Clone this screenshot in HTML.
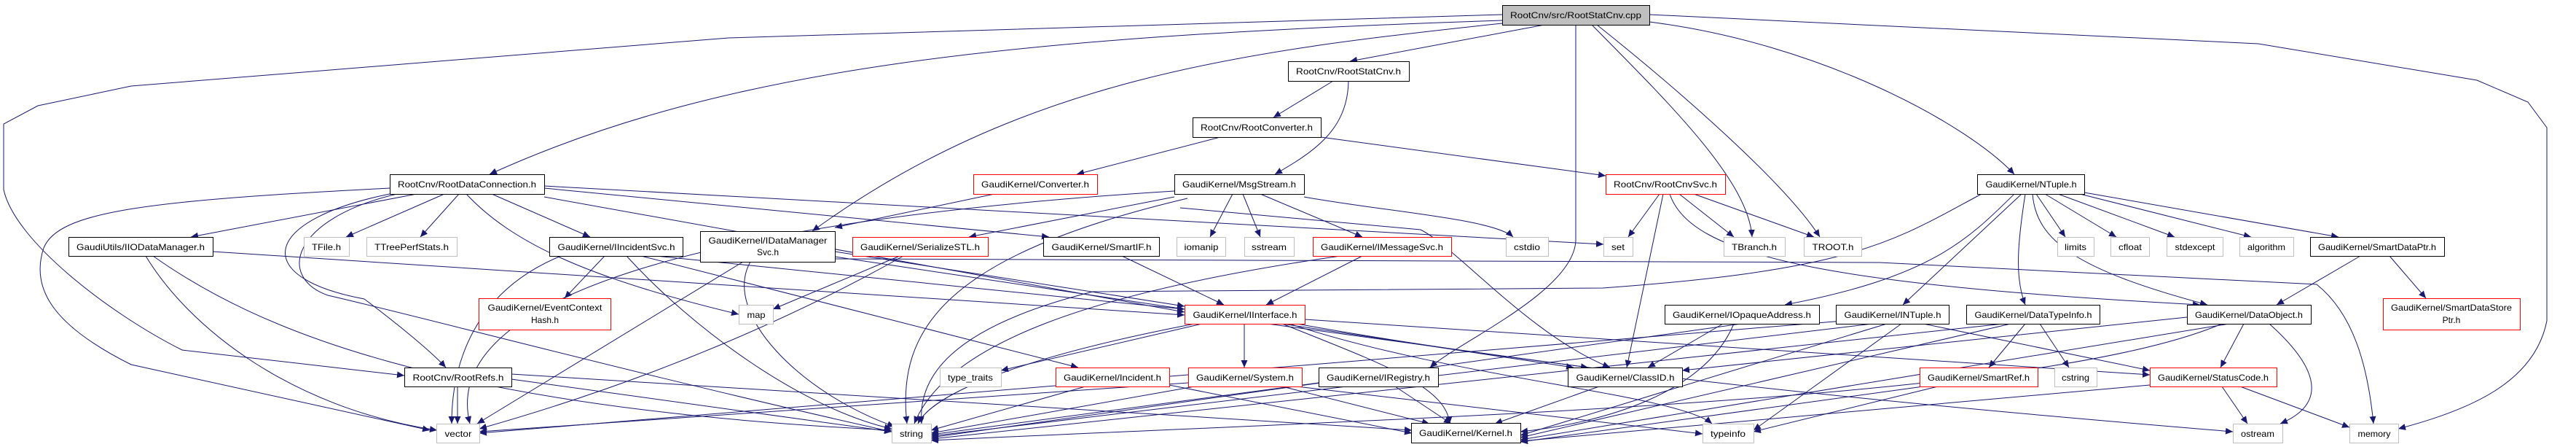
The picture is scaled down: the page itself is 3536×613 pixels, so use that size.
<!DOCTYPE html>
<html><head><meta charset="utf-8"><style>
html,body{margin:0;padding:0;background:#fff;}
svg{display:block;}
text{font-family:"Liberation Sans",sans-serif;font-size:12px;fill:#000;}
.e path{fill:none;stroke:#191970;stroke-width:1;}
</style></head><body>
<svg width="3536" height="613" viewBox="0 0 3536 613" xmlns="http://www.w3.org/2000/svg">
<defs><marker id="a" markerUnits="userSpaceOnUse" markerWidth="11" markerHeight="9" refX="10" refY="4.5" orient="auto"><path d="M0,0 L10,4.5 L0,9 z" fill="#191970"/></marker></defs>
<g class="e" marker-end="url(#a)">
<path d="M2120 34 L1853 84"/>
<path d="M2062 28 C1400 50,1000 90,672 239"/>
<path d="M2062 32 C1700 70,1400 110,1115 317"/>
<path d="M2062 20 L1000 52 L180 118 L52 145 L5 170 L5 260 C20 330,150 430,250 480 L555 515"/>
<path d="M2163 34 L2163 330 C2160 400,2000 470,1963 504"/>
<path d="M2185 34 C2300 150,2400 250,2405 325"/>
<path d="M2192 34 C2300 120,2450 250,2498 325"/>
<path d="M2264 30 C2500 60,2700 170,2765 239"/>
<path d="M2264 20 L3100 60 L3400 110 L3470 140 L3496 175 L3496 440 C3480 520,3400 560,3292 588"/>
<path d="M1830 111 L1748 161"/>
<path d="M1851 111 C1850 180,1800 210,1750 239"/>
<path d="M1675 188 L1478 239"/>
<path d="M1813 188 L2204 241"/>
<path d="M1365 266 L1146 312"/>
<path d="M1692 266 L1661 325"/>
<path d="M1706 266 L1730 325"/>
<path d="M1730 266 L1870 325"/>
<path d="M1790 270 C1900 290,2050 300,2077 325"/>
<path d="M1612 270 L1330 325"/>
<path d="M1630 272 C1300 350,1230 450,1245 581"/>
<path d="M1612 262 C1000 300,600 400,645 581"/>
<path d="M1620 285 L1950 315 C2000 340,2100 460,2210 504"/>
<path d="M2278 266 L2235 325"/>
<path d="M2305 266 L2380 325"/>
<path d="M2325 266 L2490 325"/>
<path d="M2283 266 L2233 504"/>
<path d="M2292 266 C2320 350,2500 390,3020 418"/>
<path d="M572 266 L262 325"/>
<path d="M610 266 L475 325"/>
<path d="M630 266 L577 325"/>
<path d="M675 266 L810 325"/>
<path d="M535 258 C200 275,80 290,60 340 C40 400,80 450,180 500 L590 590"/>
<path d="M540 265 C360 300,340 380,500 410 C540 440,590 480,612 504"/>
<path d="M545 266 C400 300,380 380,450 405 C560 430,900 520,1224 592"/>
<path d="M640 266 C700 330,800 380,1014 431"/>
<path d="M747 255 L2201 335"/>
<path d="M747 258 L1440 325"/>
<path d="M747 270 L1626 428"/>
<path d="M292 345 L1626 432"/>
<path d="M200 351 C260 450,400 560,600 590"/>
<path d="M210 351 C350 450,600 560,1224 590"/>
<path d="M830 351 L775 409"/>
<path d="M900 351 L1626 424"/>
<path d="M880 351 L1480 504"/>
<path d="M860 351 C950 450,1100 560,1224 588"/>
<path d="M770 351 C650 400,620 500,620 581"/>
<path d="M1146 345 L1626 420"/>
<path d="M1146 352 L2160 504"/>
<path d="M1030 359 C990 430,1100 540,1228 585"/>
<path d="M1020 359 L655 581"/>
<path d="M1146 355 L2580 360 L3180 390 C3230 430,3250 500,3258 581"/>
<path d="M1235 351 L1061 424"/>
<path d="M1240 351 C1100 430,900 520,658 588"/>
<path d="M1540 351 L1680 418"/>
<path d="M1870 351 L1738 418"/>
<path d="M1840 351 C1500 400,1300 470,1255 581"/>
<path d="M1650 444 L1374 508"/>
<path d="M1708 444 L1708 504"/>
<path d="M1760 444 C1900 500,1985 530,1990 581"/>
<path d="M1740 444 L2180 504"/>
<path d="M1770 444 C2000 520,2300 540,2350 581"/>
<path d="M1791 438 L2951 514"/>
<path d="M1780 444 C2200 520,2800 570,3065 592"/>
<path d="M1640 444 C1400 490,1280 540,1260 581"/>
<path d="M1490 530 L1278 590"/>
<path d="M1605 528 L1938 594"/>
<path d="M1640 530 L1278 594"/>
<path d="M1631 525 L658 592"/>
<path d="M1760 530 L1962 581"/>
<path d="M1780 530 L2337 595"/>
<path d="M1915 530 L1992 581"/>
<path d="M1810 525 L1278 596"/>
<path d="M2195 530 L2052 581"/>
<path d="M628 530 L628 581"/>
<path d="M702 520 L1224 592"/>
<path d="M702 513 L1938 590"/>
<path d="M2365 444 L2262 504"/>
<path d="M2380 444 C2340 540,2200 580,2087 592"/>
<path d="M2390 444 L1278 600"/>
<path d="M2640 444 L2951 508"/>
<path d="M2530 440 L658 594"/>
<path d="M2570 444 L1278 598"/>
<path d="M2590 444 L2087 597"/>
<path d="M2610 444 L2407 590"/>
<path d="M2780 444 L2730 504"/>
<path d="M2800 444 L2840 504"/>
<path d="M2750 444 L1278 602"/>
<path d="M2760 444 L2087 600"/>
<path d="M3002 435 L2309 508"/>
<path d="M3080 444 L3048 504"/>
<path d="M3115 444 C3200 520,3180 560,3130 581"/>
<path d="M3050 444 C2800 550,2000 570,1278 604"/>
<path d="M3060 444 L2087 603"/>
<path d="M3050 530 L3085 581"/>
<path d="M3075 530 L3225 586"/>
<path d="M2951 528 L2087 605"/>
<path d="M2660 530 L2407 592"/>
<path d="M2640 530 L2087 606"/>
<path d="M3240 351 L3125 418"/>
<path d="M3280 351 L3330 409"/>
<path d="M2795 266 L2835 325"/>
<path d="M2807 266 L2905 325"/>
<path d="M2825 266 L2985 325"/>
<path d="M2855 266 L3090 325"/>
<path d="M2861 264 L3210 325"/>
<path d="M2790 266 C2795 330,2850 370,3030 418"/>
<path d="M2780 266 C2770 330,2765 380,2780 418"/>
<path d="M2775 266 L2612 418"/>
<path d="M2765 266 C2700 330,2650 380,2450 418"/>
<path d="M2720 266 C2600 330,2550 370,2200 395 L1500 400 C1300 450,1260 520,1265 581"/>
</g>
<g stroke-width="1">
<!-- nodes: x,y,w,h -->
<rect x="2062.5" y="7.5" width="202" height="27" fill="#bfbfbf" stroke="#000"/><text x="2163" y="25" text-anchor="middle" textLength="180" lengthAdjust="spacingAndGlyphs">RootCnv/src/RootStatCnv.cpp</text>
<rect x="1768.5" y="84.5" width="166" height="27" fill="#fff" stroke="#000"/><text x="1851" y="102" text-anchor="middle" textLength="144" lengthAdjust="spacingAndGlyphs">RootCnv/RootStatCnv.h</text>
<rect x="1637.5" y="161.5" width="176" height="27" fill="#fff" stroke="#000"/><text x="1725" y="179" text-anchor="middle" textLength="154" lengthAdjust="spacingAndGlyphs">RootCnv/RootConverter.h</text>
<rect x="535.5" y="239.5" width="212" height="27" fill="#fff" stroke="#000"/><text x="641" y="257" text-anchor="middle" textLength="190" lengthAdjust="spacingAndGlyphs">RootCnv/RootDataConnection.h</text>
<rect x="1336.5" y="239.5" width="170" height="27" fill="#fff" stroke="#f00"/><text x="1421" y="257" text-anchor="middle" textLength="148" lengthAdjust="spacingAndGlyphs">GaudiKernel/Converter.h</text>
<rect x="1612.5" y="239.5" width="178" height="27" fill="#fff" stroke="#000"/><text x="1701" y="257" text-anchor="middle" textLength="156" lengthAdjust="spacingAndGlyphs">GaudiKernel/MsgStream.h</text>
<rect x="2204.5" y="239.5" width="164" height="27" fill="#fff" stroke="#f00"/><text x="2286" y="257" text-anchor="middle" textLength="142" lengthAdjust="spacingAndGlyphs">RootCnv/RootCnvSvc.h</text>
<rect x="2714.5" y="239.5" width="147" height="27" fill="#fff" stroke="#000"/><text x="2788" y="257" text-anchor="middle" textLength="125" lengthAdjust="spacingAndGlyphs">GaudiKernel/NTuple.h</text>
<rect x="94.5" y="325.5" width="198" height="26" fill="#fff" stroke="#000"/><text x="193" y="343" text-anchor="middle" textLength="176" lengthAdjust="spacingAndGlyphs">GaudiUtils/IIODataManager.h</text>
<rect x="417.5" y="325.5" width="62" height="26" fill="#fff" stroke="#bfbfbf"/><text x="448" y="343" text-anchor="middle" textLength="40" lengthAdjust="spacingAndGlyphs">TFile.h</text>
<rect x="503.5" y="325.5" width="124" height="26" fill="#fff" stroke="#bfbfbf"/><text x="565" y="343" text-anchor="middle" textLength="102" lengthAdjust="spacingAndGlyphs">TTreePerfStats.h</text>
<rect x="754.5" y="325.5" width="183" height="26" fill="#fff" stroke="#000"/><text x="846" y="343" text-anchor="middle" textLength="161" lengthAdjust="spacingAndGlyphs">GaudiKernel/IIncidentSvc.h</text>
<rect x="961.5" y="317.5" width="185" height="42" fill="#fff" stroke="#000"/><text x="1054" y="334" text-anchor="middle" textLength="163" lengthAdjust="spacingAndGlyphs">GaudiKernel/IDataManager</text><text x="1054" y="350" text-anchor="middle">Svc.h</text>
<rect x="1170.5" y="325.5" width="186" height="26" fill="#fff" stroke="#f00"/><text x="1263" y="343" text-anchor="middle" textLength="164" lengthAdjust="spacingAndGlyphs">GaudiKernel/SerializeSTL.h</text>
<rect x="1432.5" y="325.5" width="159" height="26" fill="#fff" stroke="#000"/><text x="1512" y="343" text-anchor="middle" textLength="137" lengthAdjust="spacingAndGlyphs">GaudiKernel/SmartIF.h</text>
<rect x="1615.5" y="325.5" width="67" height="26" fill="#fff" stroke="#bfbfbf"/><text x="1649" y="343" text-anchor="middle" textLength="47" lengthAdjust="spacingAndGlyphs">iomanip</text>
<rect x="1708.5" y="325.5" width="68" height="26" fill="#fff" stroke="#bfbfbf"/><text x="1742" y="343" text-anchor="middle" textLength="48" lengthAdjust="spacingAndGlyphs">sstream</text>
<rect x="1802.5" y="325.5" width="190" height="26" fill="#fff" stroke="#f00"/><text x="1897" y="343" text-anchor="middle" textLength="168" lengthAdjust="spacingAndGlyphs">GaudiKernel/IMessageSvc.h</text>
<rect x="2067.5" y="325.5" width="58" height="26" fill="#fff" stroke="#bfbfbf"/><text x="2096" y="343" text-anchor="middle" textLength="36" lengthAdjust="spacingAndGlyphs">cstdio</text>
<rect x="2201.5" y="325.5" width="40" height="26" fill="#fff" stroke="#bfbfbf"/><text x="2221" y="343" text-anchor="middle" textLength="18" lengthAdjust="spacingAndGlyphs">set</text>
<rect x="2366.5" y="325.5" width="84" height="26" fill="#fff" stroke="#bfbfbf"/><text x="2408" y="343" text-anchor="middle" textLength="62" lengthAdjust="spacingAndGlyphs">TBranch.h</text>
<rect x="2476.5" y="325.5" width="79" height="26" fill="#fff" stroke="#bfbfbf"/><text x="2516" y="343" text-anchor="middle" textLength="57" lengthAdjust="spacingAndGlyphs">TROOT.h</text>
<rect x="2824.5" y="325.5" width="50" height="26" fill="#fff" stroke="#bfbfbf"/><text x="2849" y="343" text-anchor="middle" textLength="30" lengthAdjust="spacingAndGlyphs">limits</text>
<rect x="2897.5" y="325.5" width="53" height="26" fill="#fff" stroke="#bfbfbf"/><text x="2924" y="343" text-anchor="middle" textLength="32" lengthAdjust="spacingAndGlyphs">cfloat</text>
<rect x="2974.5" y="325.5" width="77" height="26" fill="#fff" stroke="#bfbfbf"/><text x="3013" y="343" text-anchor="middle" textLength="55" lengthAdjust="spacingAndGlyphs">stdexcept</text>
<rect x="3074.5" y="325.5" width="74" height="26" fill="#fff" stroke="#bfbfbf"/><text x="3111" y="343" text-anchor="middle" textLength="52" lengthAdjust="spacingAndGlyphs">algorithm</text>
<rect x="3171.5" y="325.5" width="184" height="26" fill="#fff" stroke="#000"/><text x="3263" y="343" text-anchor="middle" textLength="162" lengthAdjust="spacingAndGlyphs">GaudiKernel/SmartDataPtr.h</text>
<rect x="657.5" y="409.5" width="181" height="43" fill="#fff" stroke="#f00"/><text x="748" y="426" text-anchor="middle" textLength="157" lengthAdjust="spacingAndGlyphs">GaudiKernel/EventContext</text><text x="748" y="443" text-anchor="middle">Hash.h</text>
<rect x="1014.5" y="418.5" width="47" height="26" fill="#fff" stroke="#bfbfbf"/><text x="1038" y="436" text-anchor="middle" textLength="25" lengthAdjust="spacingAndGlyphs">map</text>
<rect x="1626.5" y="418.5" width="165" height="26" fill="#fff" stroke="#f00"/><text x="1709" y="436" text-anchor="middle" textLength="143" lengthAdjust="spacingAndGlyphs">GaudiKernel/IInterface.h</text>
<rect x="2285.5" y="418.5" width="212" height="26" fill="#fff" stroke="#000"/><text x="2391" y="436" text-anchor="middle" textLength="190" lengthAdjust="spacingAndGlyphs">GaudiKernel/IOpaqueAddress.h</text>
<rect x="2520.5" y="418.5" width="155" height="26" fill="#fff" stroke="#000"/><text x="2598" y="436" text-anchor="middle" textLength="133" lengthAdjust="spacingAndGlyphs">GaudiKernel/INTuple.h</text>
<rect x="2699.5" y="418.5" width="183" height="26" fill="#fff" stroke="#000"/><text x="2791" y="436" text-anchor="middle" textLength="161" lengthAdjust="spacingAndGlyphs">GaudiKernel/DataTypeInfo.h</text>
<rect x="3002.5" y="418.5" width="170" height="26" fill="#fff" stroke="#000"/><text x="3087" y="436" text-anchor="middle" textLength="148" lengthAdjust="spacingAndGlyphs">GaudiKernel/DataObject.h</text>
<rect x="3271.5" y="409.5" width="188" height="43" fill="#fff" stroke="#f00"/><text x="3365" y="426" text-anchor="middle" textLength="166" lengthAdjust="spacingAndGlyphs">GaudiKernel/SmartDataStore</text><text x="3365" y="443" text-anchor="middle">Ptr.h</text>
<rect x="555.5" y="504.5" width="147" height="26" fill="#fff" stroke="#000"/><text x="629" y="522" text-anchor="middle" textLength="125" lengthAdjust="spacingAndGlyphs">RootCnv/RootRefs.h</text>
<rect x="1290.5" y="504.5" width="84" height="26" fill="#fff" stroke="#bfbfbf"/><text x="1332" y="522" text-anchor="middle" textLength="62" lengthAdjust="spacingAndGlyphs">type_traits</text>
<rect x="1449.5" y="504.5" width="156" height="26" fill="#fff" stroke="#f00"/><text x="1527" y="522" text-anchor="middle" textLength="134" lengthAdjust="spacingAndGlyphs">GaudiKernel/Incident.h</text>
<rect x="1631.5" y="504.5" width="156" height="26" fill="#fff" stroke="#f00"/><text x="1709" y="522" text-anchor="middle" textLength="134" lengthAdjust="spacingAndGlyphs">GaudiKernel/System.h</text>
<rect x="1810.5" y="504.5" width="164" height="26" fill="#fff" stroke="#000"/><text x="1892" y="522" text-anchor="middle" textLength="142" lengthAdjust="spacingAndGlyphs">GaudiKernel/IRegistry.h</text>
<rect x="2152.5" y="504.5" width="157" height="26" fill="#fff" stroke="#000"/><text x="2231" y="522" text-anchor="middle" textLength="135" lengthAdjust="spacingAndGlyphs">GaudiKernel/ClassID.h</text>
<rect x="2635.5" y="504.5" width="162" height="26" fill="#fff" stroke="#f00"/><text x="2716" y="522" text-anchor="middle" textLength="140" lengthAdjust="spacingAndGlyphs">GaudiKernel/SmartRef.h</text>
<rect x="2820.5" y="504.5" width="58" height="26" fill="#fff" stroke="#bfbfbf"/><text x="2849" y="522" text-anchor="middle" textLength="38" lengthAdjust="spacingAndGlyphs">cstring</text>
<rect x="2951.5" y="504.5" width="174" height="26" fill="#fff" stroke="#f00"/><text x="3038" y="522" text-anchor="middle" textLength="152" lengthAdjust="spacingAndGlyphs">GaudiKernel/StatusCode.h</text>
<rect x="599.5" y="581.5" width="59" height="26" fill="#fff" stroke="#bfbfbf"/><text x="629" y="599" text-anchor="middle" textLength="37" lengthAdjust="spacingAndGlyphs">vector</text>
<rect x="1224.5" y="581.5" width="54" height="26" fill="#fff" stroke="#bfbfbf"/><text x="1251" y="599" text-anchor="middle" textLength="32" lengthAdjust="spacingAndGlyphs">string</text>
<rect x="1937.5" y="580.5" width="150" height="27" fill="#fff" stroke="#000"/><text x="2012" y="598" text-anchor="middle" textLength="128" lengthAdjust="spacingAndGlyphs">GaudiKernel/Kernel.h</text>
<rect x="2337.5" y="581.5" width="70" height="26" fill="#fff" stroke="#bfbfbf"/><text x="2372" y="599" text-anchor="middle" textLength="48" lengthAdjust="spacingAndGlyphs">typeinfo</text>
<rect x="3065.5" y="581.5" width="68" height="26" fill="#fff" stroke="#bfbfbf"/><text x="3099" y="599" text-anchor="middle" textLength="46" lengthAdjust="spacingAndGlyphs">ostream</text>
<rect x="3225.5" y="581.5" width="67" height="26" fill="#fff" stroke="#bfbfbf"/><text x="3259" y="599" text-anchor="middle" textLength="45" lengthAdjust="spacingAndGlyphs">memory</text>
</g>
</svg>
</body></html>
